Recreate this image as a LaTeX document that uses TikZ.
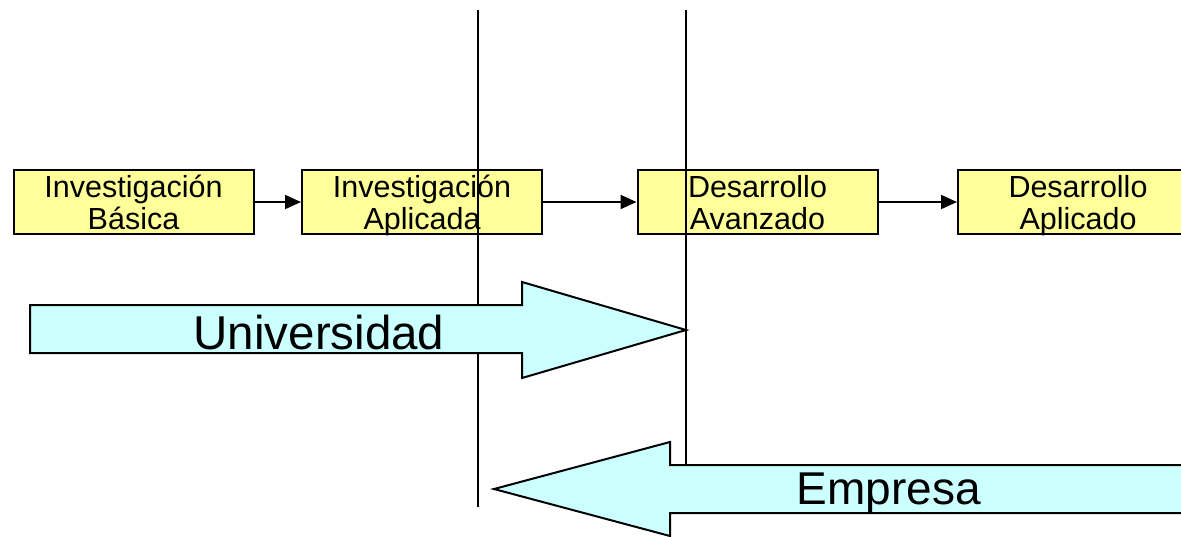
\documentclass[tikz,border=0pt]{standalone}
\usepackage{fontspec}
\setmainfont{Liberation Sans}
\usetikzlibrary{arrows.meta}
\definecolor{boxyellow}{RGB}{255,255,153}
\definecolor{arrowcyan}{RGB}{204,255,255}
\newcommand{\lnline}[1]{\rule[-4.6pt]{0pt}{32pt}\smash{#1}}
\begin{document}
\begin{tikzpicture}[x=1pt,y=-1pt,
  stagebox/.style={draw=black,line width=2pt,fill=boxyellow,minimum width=240pt,minimum height=64pt,
    inner sep=0pt,align=center,font=\fontsize{30.5}{32}\selectfont},
  flow/.style={line width=2pt,-{Triangle[length=16pt,width=14pt]}},
  divider/.style={line width=1.5pt},
  bigarrow/.style={draw=black,line width=2pt,fill=arrowcyan,line join=miter},
  bigtext/.style={inner sep=0pt}]
\useasboundingbox (0,0) rectangle (1181,536);
\node[stagebox] (b1) at (133.5,202) {\lnline{Investigación}\\\lnline{Básica}};
\node[stagebox] (b2) at (422,202) {\lnline{Investigación}\\\lnline{Aplicada}};
\node[stagebox] (b3) at (757.5,202) {\lnline{Desarrollo}\\\lnline{Avanzado}};
\node[stagebox] (b4) at (1078,202) {\lnline{Desarrollo}\\\lnline{Aplicado}};
\draw[flow] (b1) -- (b2);
\draw[flow] (b2) -- (b3);
\draw[flow] (b3) -- (b4);
\coordinate (v1t) at (478,10);
\coordinate (v1b) at (478,507);
\coordinate (v2t) at (686,10);
\coordinate (v2b) at (686,466);
\draw[divider] (v1t) -- (v1b);
\draw[divider] (v2t) -- (v2b);
\draw[bigarrow] (30,305) -- (522,305) -- (522,282) -- (686,330) -- (522,378) -- (522,353) -- (30,353) -- cycle;
\node[bigtext,font=\fontsize{47.5}{50}\selectfont] (uni) at (319,333) {Universidad};
\draw[bigarrow] (1200,465) -- (670,465) -- (670,442) -- (494,489) -- (670,536) -- (670,513) -- (1200,513) -- cycle;
\node[bigtext,font=\fontsize{46}{50}\selectfont] (emp) at (889,493) {Empresa};
\end{tikzpicture}
\end{document}
